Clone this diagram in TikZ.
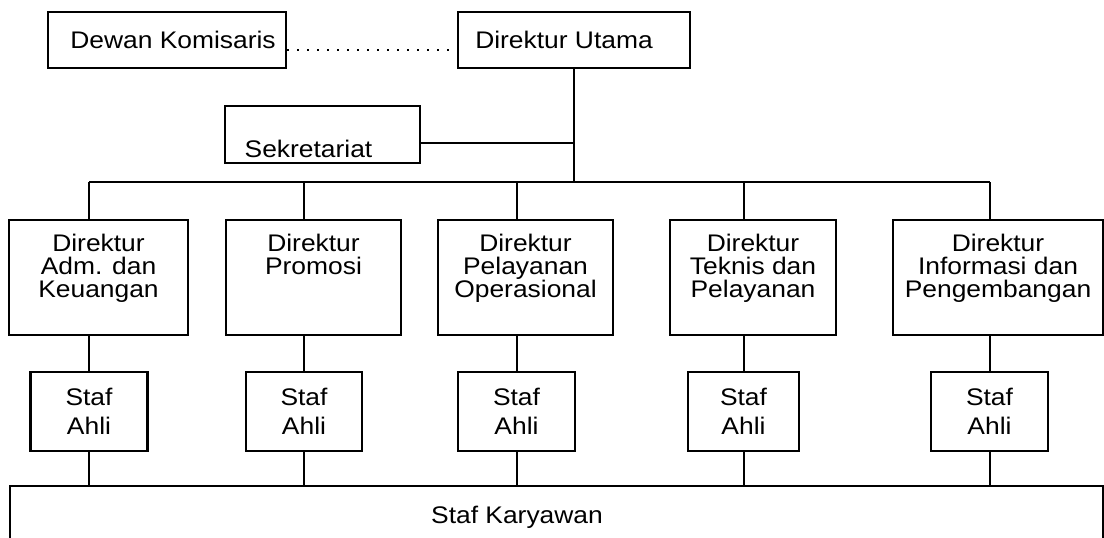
\documentclass[tikz,border=0pt]{standalone}
\usepackage{fontspec}
\setmainfont{Liberation Sans}[FakeStretch=1.1]
\usepackage{tikz}
\usetikzlibrary{positioning}

\begin{document}
\begin{tikzpicture}[x=0.5pt,y=-0.5pt]
\useasboundingbox (0,0) rectangle (1104,537);
\clip (0,0) rectangle (1104,537);
\begin{scope}[every node/.style={draw,line width=1.1pt,inner sep=0pt,align=center,
                                 font=\fontsize{12}{11.5}\selectfont},
              dirbox/.style={minimum width=#1,minimum height=57.5pt},
              ahlibox/.style={minimum width=#1,minimum height=39.5pt,
                              font=\fontsize{12}{14.5}\selectfont}]
    \node[minimum width=119pt,minimum height=28pt] (kom) at (167,40) {\kern6pt Dewan Komisaris};
    \node[minimum width=116pt,minimum height=28pt] (dirut) at (574,40) {Direktur Utama\kern10pt};
    \node[minimum width=97.5pt,minimum height=28.5pt,text height=23pt,text depth=0.5pt] (sek) at (322.5,134.5) {Sekretariat\kern14pt};
    % empty last line lifts the text a little, as in the chart
    \node[dirbox=89.5pt] (d1) at (98.5,277.5) {Direktur\\Adm. dan\\Keuangan\\~};
    \node[dirbox=87.5pt] (d2) at (313.5,277.5) {Direktur\\Promosi\\~\\~};
    \node[dirbox=87.5pt] (d3) at (525.5,277.5) {Direktur\\Pelayanan\\Operasional\\~};
    \node[dirbox=83pt] (d4) at (753,277.5) {Direktur\\Teknis dan\\Pelayanan\\~};
    \node[dirbox=105pt] (d5) at (998,277.5) {Direktur\\Informasi dan\\Pengembangan\\~};
    \node[ahlibox=58.5pt] (sa1) at (89,411.5) {Staf\\Ahli};
    \node[ahlibox=58pt] (sa2) at (304,411.5) {Staf\\Ahli};
    \node[ahlibox=58.5pt] (sa3) at (516.5,411.5) {Staf\\Ahli};
    \node[ahlibox=55.5pt] (sa4) at (743.5,411.5) {Staf\\Ahli};
    \node[ahlibox=58.5pt] (sa5) at (989.5,411.5) {Staf\\Ahli};
    \node[minimum width=546.5pt,minimum height=34pt] (kary) at (556.5,520) {};
    \node[draw=none,anchor=base] (karytxt) at (517,523) {Staf Karyawan};
\end{scope}
\coordinate (bus) at (574,182);
\begin{scope}[solid_line/.style={draw=black,line width=1pt},
              dot_line/.style={draw=black,line width=1pt,dash pattern=on 1pt off 4pt}]
    \path [dot_line] ([yshift=-5pt]kom.east) -- ([yshift=-5pt]dirut.west);
    \path [solid_line] (dirut.south) -- (bus);
    \path [solid_line] ([yshift=-4.25pt]sek.east) -- ([yshift=-4.25pt]sek.east -| bus);
    \path [solid_line] (sa1.north |- bus) -- (sa5.north |- bus);
    \path [solid_line] (sa1.north |- bus) -- (sa1.north |- d1.north);
    \path [solid_line] (sa2.north |- bus) -- (sa2.north |- d2.north);
    \path [solid_line] (sa3.north |- bus) -- (sa3.north |- d3.north);
    \path [solid_line] (sa4.north |- bus) -- (sa4.north |- d4.north);
    \path [solid_line] (sa5.north |- bus) -- (sa5.north |- d5.north);
    \path [solid_line] (sa1.north |- d1.south) -- (sa1.north);
    \path [solid_line] (sa2.north |- d2.south) -- (sa2.north);
    \path [solid_line] (sa3.north |- d3.south) -- (sa3.north);
    \path [solid_line] (sa4.north |- d4.south) -- (sa4.north);
    \path [solid_line] (sa5.north |- d5.south) -- (sa5.north);
    \path [solid_line] (sa1.south) -- (sa1.south |- kary.north);
    \path [solid_line] (sa2.south) -- (sa2.south |- kary.north);
    \path [solid_line] (sa3.south) -- (sa3.south |- kary.north);
    \path [solid_line] (sa4.south) -- (sa4.south |- kary.north);
    \path [solid_line] (sa5.south) -- (sa5.south |- kary.north);
\end{scope}
\end{tikzpicture}
\end{document}
